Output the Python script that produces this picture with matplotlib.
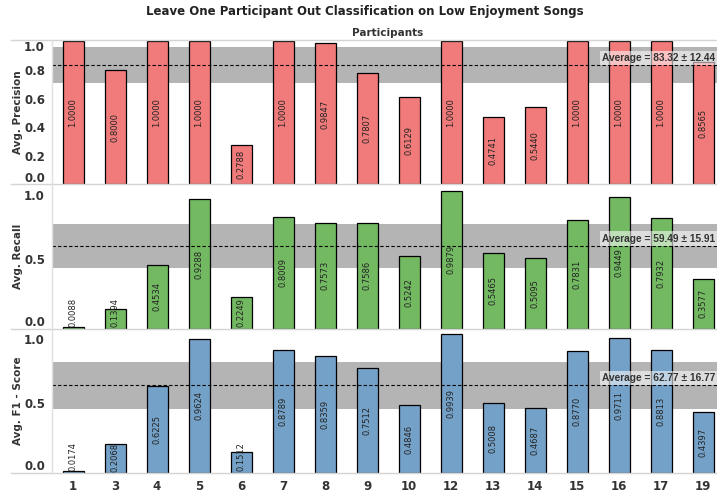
import matplotlib.pyplot as plt
from matplotlib.lines import Line2D
import numpy as np

participants = ['1', '3', '4', '5', '6', '7', '8', '9', '10', '12', '13', '14', '15', '16', '17', '19']
precision = [1.0, 0.8, 1.0, 1.0, 0.2788, 1.0, 0.9847, 0.7807, 0.6129, 1.0, 0.4741, 0.5440, 1.0, 1.0, 1.0, 0.8565]
recall = [0.0088, 0.1394, 0.4534, 0.9288, 0.2249, 0.8009, 0.7573, 0.7586, 0.5242, 0.9879, 0.5465, 0.5095, 0.7831, 0.9449, 0.7932, 0.3577]
f1 = [0.0174, 0.2068, 0.6225, 0.9624, 0.1512, 0.8789, 0.8359, 0.7512, 0.4846, 0.9939, 0.5008, 0.4687, 0.8770, 0.9711, 0.8813, 0.4397]
avg = [83.32, 59.49, 62.77]
std = [12.44, 15.91, 16.77]
ylabels = ['Avg. Precision', 'Avg. Recall', 'Avg. F1 - Score']
colors = ['#F07B7A', '#72B962', '#74A1C7']

W, H = 717, 498
fig = plt.figure(figsize=(W / 100, H / 100), dpi=100)

# panel boundaries in pixels (top, bottom, ylim top)
panels = [(40.5, 184.5, 1.005), (184.5, 328.5, 1.036), (328.5, 473, 1.036)]
left, width = 52, 672

series = [precision, recall, f1]
x = np.arange(len(participants))
for i, (top, bot, ytop) in enumerate(panels):
    ax = fig.add_axes([left / W, 1 - bot / H, width / W, (bot - top) / H])
    vals = series[i]
    m, s = avg[i] / 100, std[i] / 100
    ax.axhspan(m - s, m + s, color='#B4B4B4', zorder=0, lw=0)
    ax.bar(x, vals, width=0.5, color=colors[i], edgecolor='black', linewidth=0.9, zorder=2)
    ax.axhline(m, color='black', ls=(0, (3, 2)), lw=0.8, zorder=3)
    for xi, v in zip(x, vals):
        ax.text(xi, max(v / 2, 0.115), f'{v:.4f}', rotation=90, ha='center', va='center',
                fontsize=6, color='#222222', zorder=4)
    # the reference cuts this label at the right edge
    ax.text(12.6, m + 0.052, f'Average = {avg[i]:.2f} \u00b1 {std[i]:.2f}', fontsize=7.3,
            family='Liberation Sans', fontweight='bold', color='#333333', ha='left', va='center',
            zorder=5, clip_on=False,
            bbox=dict(facecolor='white', alpha=0.55, edgecolor='none', pad=1.5))
    ax.set_xlim(-0.5, 15.5)
    ax.set_ylim(0, ytop)
    for sp in ax.spines.values():
        sp.set_visible(False)
    ax.tick_params(length=0)
    if i == 0:
        ticks = [0.0, 0.2, 0.4, 0.6, 0.8, 1.0]
    else:
        ticks = [0.0, 0.5, 1.0]
    ax.set_yticks(ticks)
    ax.set_yticklabels([f'{t:.1f}' for t in ticks], fontsize=8.5, fontweight='bold', color='#333333')
    for lab, t in zip(ax.get_yticklabels(), ticks):
        if t == 0.0:
            lab.set_va('bottom')
        elif t == 1.0:
            lab.set_va('top')
    ax.tick_params(axis='y', pad=5)
    if i == 2:
        ax.set_xticks(x)
        ax.set_xticklabels(participants, fontsize=8.5, fontweight='bold', color='#333333')
        ax.tick_params(axis='x', pad=5)
    else:
        ax.set_xticks([])
    fig.text(18 / W, 1 - (top + bot) / 2 / H, ylabels[i], rotation=90, ha='center', va='center',
             fontsize=7.5, fontweight='bold', color='#333333')

# separator lines and axis line
for yp in [40.5, 184.5, 328.5, 473]:
    fig.add_artist(Line2D([11 / W, 1], [1 - yp / H, 1 - yp / H], color='#D4D4D4', lw=1))
fig.add_artist(Line2D([52 / W, 52 / W], [1 - 40.5 / H, 1 - 473 / H], color='#E0E0E0', lw=1))

fig.text(365 / W, 1 - 12 / H, 'Leave One Participant Out Classification on Low Enjoyment Songs',
         ha='center', va='center', fontsize=8.5, fontweight='bold', color='#222222')
fig.text(388 / W, 1 - 33 / H, 'Participants', ha='center', va='center', fontsize=7.5,
         fontweight='bold', color='#333333')

fig.savefig('out.png', dpi=100)
